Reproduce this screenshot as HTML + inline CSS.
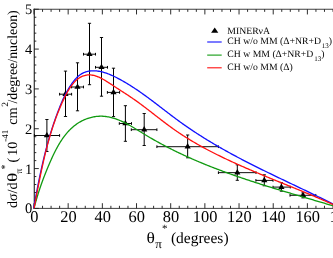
<!DOCTYPE html>
<html><head><meta charset="utf-8"><title>chart</title>
<style>html,body{margin:0;padding:0;background:#fff;overflow:hidden}svg text{font-family:"Liberation Serif",serif;text-rendering:geometricPrecision}</style>
</head><body>
<div style="will-change:transform;width:333px;height:258px;background:#fff">
<svg width="333" height="258" viewBox="0 0 333 258" style="display:block">
<rect width="333" height="258" fill="#fff"/>
<g stroke="#222" fill="none">
<path stroke-width="1.2" stroke="#333" d="M34.3,208.8 V8.85"/>
<path stroke-width="0.9" stroke="#2a2a2a" d="M33.5,9.25 H340 M33.5,208.4 H340"/>
<path stroke-width="0.95" d="M34.00,208.4 v-5.2 M34.00,9.25 v5.2 M42.54,208.4 v-2.6 M42.54,9.25 v2.6 M51.09,208.4 v-2.6 M51.09,9.25 v2.6 M59.63,208.4 v-2.6 M59.63,9.25 v2.6 M68.17,208.4 v-5.2 M68.17,9.25 v5.2 M76.72,208.4 v-2.6 M76.72,9.25 v2.6 M85.26,208.4 v-2.6 M85.26,9.25 v2.6 M93.80,208.4 v-2.6 M93.80,9.25 v2.6 M102.35,208.4 v-5.2 M102.35,9.25 v5.2 M110.89,208.4 v-2.6 M110.89,9.25 v2.6 M119.44,208.4 v-2.6 M119.44,9.25 v2.6 M127.98,208.4 v-2.6 M127.98,9.25 v2.6 M136.52,208.4 v-5.2 M136.52,9.25 v5.2 M145.07,208.4 v-2.6 M145.07,9.25 v2.6 M153.61,208.4 v-2.6 M153.61,9.25 v2.6 M162.15,208.4 v-2.6 M162.15,9.25 v2.6 M170.70,208.4 v-5.2 M170.70,9.25 v5.2 M179.24,208.4 v-2.6 M179.24,9.25 v2.6 M187.78,208.4 v-2.6 M187.78,9.25 v2.6 M196.33,208.4 v-2.6 M196.33,9.25 v2.6 M204.87,208.4 v-5.2 M204.87,9.25 v5.2 M213.41,208.4 v-2.6 M213.41,9.25 v2.6 M221.96,208.4 v-2.6 M221.96,9.25 v2.6 M230.50,208.4 v-2.6 M230.50,9.25 v2.6 M239.04,208.4 v-5.2 M239.04,9.25 v5.2 M247.59,208.4 v-2.6 M247.59,9.25 v2.6 M256.13,208.4 v-2.6 M256.13,9.25 v2.6 M264.67,208.4 v-2.6 M264.67,9.25 v2.6 M273.22,208.4 v-5.2 M273.22,9.25 v5.2 M281.76,208.4 v-2.6 M281.76,9.25 v2.6 M290.31,208.4 v-2.6 M290.31,9.25 v2.6 M298.85,208.4 v-2.6 M298.85,9.25 v2.6 M307.39,208.4 v-5.2 M307.39,9.25 v5.2 M315.94,208.4 v-2.6 M315.94,9.25 v2.6 M324.48,208.4 v-2.6 M324.48,9.25 v2.6 M333.02,208.4 v-2.6 M333.02,9.25 v2.6 M341.57,208.4 v-5.2 M341.57,9.25 v5.2 M34.0,208.40 h4.8 M34.0,200.43 h2.3 M34.0,192.47 h2.3 M34.0,184.50 h2.3 M34.0,176.54 h2.3 M34.0,168.57 h4.8 M34.0,160.60 h2.3 M34.0,152.64 h2.3 M34.0,144.67 h2.3 M34.0,136.71 h2.3 M34.0,128.74 h4.8 M34.0,120.77 h2.3 M34.0,112.81 h2.3 M34.0,104.84 h2.3 M34.0,96.88 h2.3 M34.0,88.91 h4.8 M34.0,80.94 h2.3 M34.0,72.98 h2.3 M34.0,65.01 h2.3 M34.0,57.05 h2.3 M34.0,49.08 h4.8 M34.0,41.11 h2.3 M34.0,33.15 h2.3 M34.0,25.18 h2.3 M34.0,17.22 h2.3 M34.0,9.25 h4.8"/>
</g>
<g fill="none">
<path stroke="#000" stroke-width="0.95" d="M34.40,135.50 H59.60 M45.30,119.50 h3.2 M45.30,151.50 h3.2"/>
<path stroke="#000" stroke-width="1.0" d="M34.40,134.15 v2.7 M59.60,134.15 v2.7 M46.90,119.50 V151.50"/>
<path stroke="#000" stroke-width="0.95" d="M59.60,94.20 H71.60 M63.90,71.10 h3.2 M63.90,116.50 h3.2"/>
<path stroke="#000" stroke-width="1.0" d="M59.60,92.85 v2.7 M71.60,92.85 v2.7 M65.50,71.10 V116.50"/>
<path stroke="#000" stroke-width="0.95" d="M71.60,87.00 H83.50 M75.90,62.80 h3.2 M75.90,110.80 h3.2"/>
<path stroke="#000" stroke-width="1.0" d="M71.60,85.65 v2.7 M83.50,85.65 v2.7 M77.50,62.80 V110.80"/>
<path stroke="#000" stroke-width="0.95" d="M83.50,54.20 H95.50 M87.90,23.30 h3.2 M87.90,84.70 h3.2"/>
<path stroke="#000" stroke-width="1.0" d="M83.50,52.85 v2.7 M95.50,52.85 v2.7 M89.50,23.30 V84.70"/>
<path stroke="#000" stroke-width="0.95" d="M95.50,67.30 H107.50 M99.90,37.50 h3.2 M99.90,96.20 h3.2"/>
<path stroke="#000" stroke-width="1.0" d="M95.50,65.95 v2.7 M107.50,65.95 v2.7 M101.50,37.50 V96.20"/>
<path stroke="#000" stroke-width="0.95" d="M107.40,92.40 H119.60 M111.90,68.20 h3.2 M111.90,116.60 h3.2"/>
<path stroke="#000" stroke-width="1.0" d="M107.40,91.05 v2.7 M119.60,91.05 v2.7 M113.50,68.20 V116.60"/>
<path stroke="#000" stroke-width="0.95" d="M119.30,123.50 H131.50 M123.80,105.70 h3.2 M123.80,141.30 h3.2"/>
<path stroke="#000" stroke-width="1.0" d="M119.30,122.15 v2.7 M131.50,122.15 v2.7 M125.40,105.70 V141.30"/>
<path stroke="#000" stroke-width="0.95" d="M131.30,129.70 H156.90 M142.60,113.50 h3.2 M142.60,145.50 h3.2"/>
<path stroke="#000" stroke-width="1.0" d="M131.30,128.35 v2.7 M156.90,128.35 v2.7 M144.20,113.50 V145.50"/>
<path stroke="#000" stroke-width="0.95" d="M156.90,146.70 H218.40 M186.05,135.00 h3.2 M186.05,157.80 h3.2"/>
<path stroke="#000" stroke-width="1.0" d="M156.90,145.35 v2.7 M218.40,145.35 v2.7 M187.65,135.00 V157.80"/>
<path stroke="#000" stroke-width="0.95" d="M218.40,172.65 H256.00 M235.70,164.80 h3.2 M235.70,180.30 h3.2"/>
<path stroke="#000" stroke-width="1.0" d="M218.40,171.30 v2.7 M256.00,171.30 v2.7 M237.30,164.80 V180.30"/>
<path stroke="#000" stroke-width="0.95" d="M255.90,180.40 H273.00 M262.70,174.80 h3.2 M262.70,185.80 h3.2"/>
<path stroke="#000" stroke-width="1.0" d="M255.90,179.05 v2.7 M273.00,179.05 v2.7 M264.30,174.80 V185.80"/>
<path stroke="#000" stroke-width="0.95" d="M273.00,187.10 H290.30 M279.80,182.70 h3.2 M279.80,191.20 h3.2"/>
<path stroke="#000" stroke-width="1.0" d="M273.00,185.75 v2.7 M290.30,185.75 v2.7 M281.40,182.70 V191.20"/>
<path stroke="#000" stroke-width="0.95" d="M290.00,195.30 H315.80 M301.40,192.90 h3.2 M301.40,197.90 h3.2"/>
<path stroke="#000" stroke-width="1.0" d="M290.00,193.95 v2.7 M315.80,193.95 v2.7 M303.00,192.90 V197.90"/>
</g><g fill="#000">
<path d="M46.90,131.90 l3.1,5.4 h-6.2 z"/>
<path d="M65.50,90.60 l3.1,5.4 h-6.2 z"/>
<path d="M77.50,83.40 l3.1,5.4 h-6.2 z"/>
<path d="M89.50,50.60 l3.1,5.4 h-6.2 z"/>
<path d="M101.50,63.70 l3.1,5.4 h-6.2 z"/>
<path d="M113.50,88.80 l3.1,5.4 h-6.2 z"/>
<path d="M125.40,119.90 l3.1,5.4 h-6.2 z"/>
<path d="M144.20,126.10 l3.1,5.4 h-6.2 z"/>
<path d="M187.65,143.10 l3.1,5.4 h-6.2 z"/>
<path d="M237.30,169.05 l3.1,5.4 h-6.2 z"/>
<path d="M264.30,176.80 l3.1,5.4 h-6.2 z"/>
<path d="M281.40,183.50 l3.1,5.4 h-6.2 z"/>
<path d="M303.00,191.70 l3.1,5.4 h-6.2 z"/>
</g>
<g fill="none" stroke-width="1.3" stroke-linejoin="round">
<path d="M34.00,208.40 L34.25,207.42 L34.50,206.45 L34.76,205.49 L35.01,204.53 L35.27,203.58 L35.53,202.63 L35.80,201.69 L36.06,200.75 L36.33,199.82 L36.60,198.90 L36.87,197.97 L37.14,197.05 L37.41,196.14 L37.69,195.23 L37.97,194.32 L38.25,193.42 L38.54,192.52 L38.82,191.63 L39.11,190.73 L39.40,189.84 L39.70,188.96 L39.99,188.07 L40.29,187.19 L40.59,186.31 L40.90,185.43 L41.20,184.56 L41.51,183.68 L41.82,182.81 L42.14,181.94 L42.46,181.07 L42.77,180.20 L43.10,179.33 L43.42,178.47 L43.75,177.60 L44.08,176.74 L44.42,175.87 L44.75,175.00 L45.09,174.14 L45.43,173.27 L45.78,172.41 L46.13,171.54 L46.48,170.67 L46.83,169.80 L47.19,168.93 L47.55,168.06 L47.92,167.19 L48.29,166.31 L48.66,165.44 L49.03,164.56 L49.41,163.68 L49.79,162.80 L50.17,161.91 L50.56,161.03 L50.95,160.14 L51.35,159.26 L51.75,158.37 L52.16,157.48 L52.57,156.59 L52.98,155.71 L53.40,154.82 L53.83,153.94 L54.26,153.06 L54.69,152.18 L55.13,151.31 L55.58,150.43 L56.03,149.56 L56.49,148.70 L56.96,147.83 L57.43,146.97 L57.91,146.12 L58.40,145.27 L58.89,144.43 L59.39,143.59 L59.90,142.76 L60.41,141.93 L60.93,141.11 L61.47,140.30 L62.00,139.50 L62.55,138.70 L63.11,137.91 L63.67,137.13 L64.24,136.36 L64.82,135.60 L65.41,134.84 L66.01,134.10 L66.62,133.37 L67.24,132.65 L67.87,131.93 L68.51,131.23 L69.15,130.54 L69.81,129.87 L70.48,129.20 L71.16,128.55 L71.85,127.91 L72.55,127.28 L73.27,126.67 L73.99,126.07 L74.72,125.49 L75.47,124.92 L76.23,124.36 L77.00,123.82 L77.78,123.30 L78.58,122.79 L79.38,122.30 L80.20,121.83 L81.03,121.37 L81.87,120.93 L82.71,120.50 L83.57,120.10 L84.44,119.71 L85.31,119.34 L86.19,118.99 L87.08,118.66 L87.98,118.35 L88.88,118.06 L89.79,117.79 L90.71,117.53 L91.63,117.30 L92.55,117.09 L93.48,116.90 L94.41,116.74 L95.35,116.59 L96.29,116.47 L97.23,116.37 L98.17,116.29 L99.11,116.23 L100.05,116.20 L101.00,116.19 L101.94,116.21 L102.89,116.25 L103.83,116.31 L104.77,116.40 L105.71,116.51 L106.65,116.64 L107.59,116.79 L108.53,116.96 L109.46,117.15 L110.39,117.36 L111.32,117.59 L112.25,117.84 L113.18,118.10 L114.10,118.38 L115.02,118.68 L115.93,118.99 L116.85,119.32 L117.76,119.66 L118.66,120.01 L119.56,120.38 L120.46,120.75 L121.35,121.14 L122.24,121.55 L123.12,121.96 L124.00,122.38 L124.88,122.81 L125.74,123.24 L126.61,123.69 L127.46,124.14 L128.32,124.60 L129.17,125.07 L130.01,125.54 L130.85,126.02 L131.69,126.50 L132.52,126.99 L133.35,127.48 L134.18,127.98 L135.01,128.47 L135.83,128.97 L136.65,129.48 L137.48,129.98 L138.29,130.49 L139.11,130.99 L139.93,131.50 L140.75,132.01 L141.57,132.52 L142.38,133.02 L143.20,133.52 L144.02,134.03 L144.84,134.53 L145.66,135.02 L146.48,135.52 L147.31,136.01 L148.13,136.50 L148.96,136.99 L149.78,137.47 L150.61,137.95 L151.44,138.43 L152.27,138.91 L153.10,139.39 L153.93,139.86 L154.76,140.33 L155.60,140.80 L156.43,141.27 L157.27,141.73 L158.10,142.19 L158.94,142.65 L159.78,143.11 L160.62,143.57 L161.46,144.02 L162.30,144.47 L163.14,144.92 L163.99,145.36 L164.83,145.81 L165.68,146.25 L166.52,146.69 L167.37,147.13 L168.22,147.57 L169.07,148.00 L169.92,148.43 L170.77,148.86 L171.62,149.29 L172.47,149.72 L173.33,150.14 L174.18,150.56 L175.03,150.98 L175.89,151.40 L176.75,151.81 L177.60,152.23 L178.46,152.64 L179.32,153.05 L180.18,153.46 L181.04,153.86 L181.91,154.27 L182.77,154.67 L183.63,155.07 L184.50,155.47 L185.36,155.87 L186.23,156.26 L187.09,156.66 L187.96,157.05 L188.83,157.44 L189.70,157.83 L190.57,158.21 L191.44,158.60 L192.31,158.98 L193.18,159.36 L194.05,159.74 L194.93,160.12 L195.80,160.50 L196.68,160.87 L197.55,161.24 L198.43,161.61 L199.31,161.98 L200.18,162.35 L201.06,162.72 L201.94,163.08 L202.82,163.45 L203.70,163.81 L204.58,164.17 L205.46,164.53 L206.34,164.88 L207.23,165.24 L208.11,165.59 L209.00,165.94 L209.88,166.30 L210.77,166.65 L211.65,166.99 L212.54,167.34 L213.43,167.69 L214.31,168.03 L215.20,168.37 L216.09,168.71 L216.98,169.05 L217.87,169.39 L218.76,169.73 L219.65,170.06 L220.54,170.40 L221.44,170.73 L222.33,171.06 L223.22,171.40 L224.12,171.72 L225.01,172.05 L225.91,172.38 L226.80,172.71 L227.70,173.03 L228.59,173.35 L229.49,173.68 L230.39,174.00 L231.29,174.32 L232.18,174.63 L233.08,174.95 L233.98,175.27 L234.88,175.58 L235.78,175.90 L236.68,176.21 L237.58,176.52 L238.49,176.83 L239.39,177.14 L240.29,177.45 L241.19,177.76 L242.10,178.07 L243.00,178.37 L243.90,178.68 L244.81,178.98 L245.71,179.29 L246.62,179.59 L247.52,179.89 L248.43,180.19 L249.34,180.49 L250.24,180.79 L251.15,181.09 L252.06,181.38 L252.96,181.68 L253.87,181.97 L254.78,182.27 L255.69,182.56 L256.60,182.85 L257.51,183.15 L258.42,183.44 L259.32,183.73 L260.23,184.02 L261.15,184.31 L262.06,184.59 L262.97,184.88 L263.88,185.17 L264.79,185.45 L265.70,185.74 L266.61,186.03 L267.52,186.31 L268.44,186.59 L269.35,186.88 L270.26,187.16 L271.17,187.44 L272.09,187.72 L273.00,188.00 L273.91,188.28 L274.83,188.56 L275.74,188.84 L276.65,189.12 L277.57,189.40 L278.48,189.67 L279.40,189.95 L280.31,190.23 L281.23,190.50 L282.14,190.78 L283.06,191.06 L283.97,191.33 L284.89,191.60 L285.80,191.88 L286.72,192.15 L287.63,192.43 L288.55,192.70 L289.46,192.97 L290.38,193.24 L291.30,193.52 L292.21,193.79 L293.13,194.06 L294.04,194.33 L294.96,194.60 L295.88,194.87 L296.79,195.14 L297.71,195.41 L298.62,195.68 L299.54,195.95 L300.46,196.22 L301.37,196.49 L302.29,196.76 L303.21,197.03 L304.12,197.30 L305.04,197.57 L305.95,197.84 L306.87,198.11 L307.79,198.38 L308.70,198.65 L309.62,198.92 L310.53,199.19 L311.45,199.45 L312.37,199.72 L313.28,199.99 L314.20,200.26 L315.11,200.53 L316.03,200.80 L316.94,201.07 L317.86,201.34 L318.77,201.60 L319.69,201.87 L320.60,202.14 L321.52,202.41 L322.43,202.68 L323.35,202.95 L324.26,203.22 L325.18,203.49 L326.09,203.76 L327.01,204.03 L327.92,204.30 L328.83,204.57 L329.75,204.85 L330.66,205.12 L331.57,205.39 L332.49,205.66 L333.40,205.93 L334.31,206.21 L335.22,206.48 L336.13,206.75 L337.05,207.03 L337.96,207.30 L338.87,207.57 L339.78,207.85 L340.69,208.12 L341.60,208.40" stroke="#109a10"/>
<path d="M33.65,208.40 L33.85,207.30 L34.04,206.20 L34.24,205.11 L34.44,204.01 L34.63,202.91 L34.83,201.82 L35.03,200.72 L35.23,199.62 L35.44,198.53 L35.64,197.43 L35.84,196.34 L36.04,195.25 L36.25,194.15 L36.46,193.06 L36.66,191.97 L36.87,190.87 L37.08,189.78 L37.29,188.69 L37.50,187.60 L37.71,186.51 L37.93,185.42 L38.14,184.33 L38.36,183.24 L38.58,182.16 L38.80,181.07 L39.02,179.98 L39.24,178.89 L39.47,177.81 L39.69,176.72 L39.92,175.64 L40.15,174.55 L40.38,173.47 L40.61,172.39 L40.84,171.30 L41.08,170.22 L41.32,169.14 L41.56,168.06 L41.80,166.98 L42.04,165.90 L42.29,164.82 L42.53,163.74 L42.78,162.66 L43.03,161.58 L43.29,160.51 L43.54,159.43 L43.80,158.36 L44.06,157.28 L44.32,156.21 L44.59,155.13 L44.86,154.06 L45.13,152.99 L45.40,151.92 L45.67,150.85 L45.95,149.78 L46.23,148.71 L46.51,147.64 L46.80,146.57 L47.08,145.50 L47.37,144.44 L47.67,143.37 L47.96,142.31 L48.26,141.24 L48.56,140.18 L48.87,139.12 L49.17,138.05 L49.48,136.99 L49.79,135.93 L50.11,134.87 L50.43,133.81 L50.75,132.76 L51.08,131.70 L51.41,130.64 L51.74,129.59 L52.07,128.53 L52.41,127.48 L52.75,126.42 L53.10,125.37 L53.45,124.32 L53.80,123.27 L54.15,122.22 L54.51,121.17 L54.87,120.12 L55.24,119.08 L55.61,118.03 L55.98,116.98 L56.36,115.94 L56.74,114.90 L57.12,113.85 L57.51,112.81 L57.90,111.77 L58.30,110.73 L58.70,109.69 L59.10,108.65 L59.51,107.62 L59.92,106.58 L60.34,105.54 L60.76,104.51 L61.18,103.48 L61.61,102.44 L62.06,101.41 L62.52,100.39 L62.99,99.36 L63.46,98.34 L63.94,97.32 L64.43,96.30 L64.93,95.29 L65.44,94.28 L65.96,93.28 L66.50,92.28 L67.04,91.29 L67.60,90.31 L68.17,89.33 L68.75,88.36 L69.35,87.40 L69.97,86.44 L70.57,85.49 L71.19,84.55 L71.83,83.63 L72.49,82.71 L73.16,81.80 L73.85,80.91 L74.56,80.04 L75.29,79.20 L76.04,78.38 L76.81,77.58 L77.60,76.82 L78.42,76.10 L79.25,75.41 L80.11,74.77 L80.99,74.17 L81.90,73.61 L82.83,73.11 L83.78,72.66 L84.76,72.26 L85.76,71.92 L86.78,71.62 L87.81,71.38 L88.87,71.17 L89.93,71.02 L91.01,70.91 L92.10,70.84 L93.20,70.81 L94.30,70.83 L95.41,70.88 L96.53,70.97 L97.64,71.09 L98.76,71.25 L99.87,71.45 L100.97,71.67 L102.08,71.92 L103.17,72.20 L104.26,72.51 L105.34,72.85 L106.41,73.21 L107.48,73.59 L108.55,73.99 L109.60,74.41 L110.65,74.85 L111.70,75.31 L112.74,75.78 L113.77,76.27 L114.80,76.77 L115.82,77.27 L116.83,77.79 L117.84,78.32 L118.85,78.85 L119.85,79.39 L120.84,79.93 L121.83,80.48 L122.81,81.03 L123.79,81.59 L124.77,82.16 L125.74,82.73 L126.70,83.30 L127.66,83.88 L128.62,84.46 L129.57,85.05 L130.52,85.65 L131.46,86.24 L132.40,86.84 L133.34,87.45 L134.27,88.06 L135.20,88.67 L136.12,89.29 L137.04,89.91 L137.96,90.53 L138.88,91.16 L139.79,91.79 L140.70,92.43 L141.61,93.06 L142.51,93.70 L143.41,94.35 L144.31,94.99 L145.21,95.64 L146.10,96.29 L146.99,96.94 L147.88,97.59 L148.77,98.25 L149.66,98.91 L150.54,99.57 L151.43,100.23 L152.31,100.89 L153.19,101.56 L154.07,102.22 L154.95,102.89 L155.83,103.56 L156.70,104.22 L157.58,104.89 L158.45,105.56 L159.33,106.23 L160.20,106.91 L161.08,107.58 L161.95,108.25 L162.82,108.92 L163.70,109.59 L164.57,110.26 L165.44,110.93 L166.32,111.60 L167.19,112.27 L168.07,112.94 L168.94,113.61 L169.82,114.28 L170.70,114.95 L171.58,115.61 L172.46,116.27 L173.34,116.94 L174.22,117.60 L175.10,118.26 L175.99,118.92 L176.88,119.57 L177.77,120.22 L178.66,120.88 L179.55,121.53 L180.45,122.17 L181.34,122.82 L182.24,123.46 L183.14,124.10 L184.05,124.74 L184.95,125.37 L185.86,126.00 L186.77,126.63 L187.68,127.26 L188.59,127.89 L189.51,128.51 L190.43,129.13 L191.35,129.75 L192.27,130.37 L193.19,130.98 L194.12,131.59 L195.04,132.20 L195.97,132.81 L196.90,133.42 L197.83,134.02 L198.76,134.62 L199.70,135.22 L200.64,135.81 L201.57,136.41 L202.51,137.00 L203.45,137.59 L204.40,138.18 L205.34,138.76 L206.29,139.35 L207.23,139.93 L208.18,140.51 L209.13,141.09 L210.08,141.66 L211.03,142.23 L211.99,142.80 L212.94,143.37 L213.90,143.94 L214.86,144.51 L215.82,145.07 L216.78,145.63 L217.74,146.19 L218.70,146.74 L219.66,147.30 L220.63,147.85 L221.59,148.40 L222.56,148.95 L223.53,149.50 L224.49,150.04 L225.46,150.59 L226.43,151.13 L227.40,151.67 L228.38,152.21 L229.35,152.74 L230.32,153.27 L231.30,153.81 L232.27,154.34 L233.25,154.87 L234.22,155.39 L235.20,155.92 L236.18,156.44 L237.16,156.96 L238.14,157.48 L239.12,158.00 L240.10,158.52 L241.08,159.03 L242.07,159.55 L243.05,160.06 L244.03,160.57 L245.02,161.08 L246.00,161.59 L246.99,162.10 L247.98,162.60 L248.96,163.11 L249.95,163.61 L250.94,164.11 L251.93,164.62 L252.92,165.12 L253.91,165.61 L254.90,166.11 L255.89,166.61 L256.88,167.10 L257.87,167.60 L258.87,168.09 L259.86,168.58 L260.85,169.07 L261.85,169.57 L262.84,170.06 L263.83,170.54 L264.83,171.03 L265.82,171.52 L266.82,172.01 L267.82,172.49 L268.81,172.98 L269.81,173.46 L270.81,173.94 L271.80,174.43 L272.80,174.91 L273.80,175.39 L274.80,175.87 L275.80,176.35 L276.79,176.83 L277.79,177.31 L278.79,177.79 L279.79,178.27 L280.79,178.75 L281.79,179.23 L282.79,179.71 L283.79,180.19 L284.79,180.66 L285.79,181.14 L286.79,181.62 L287.79,182.10 L288.79,182.57 L289.79,183.05 L290.79,183.53 L291.79,184.00 L292.79,184.48 L293.80,184.96 L294.80,185.43 L295.80,185.91 L296.80,186.39 L297.80,186.86 L298.80,187.34 L299.80,187.82 L300.80,188.29 L301.80,188.77 L302.80,189.25 L303.80,189.73 L304.80,190.21 L305.80,190.69 L306.80,191.16 L307.80,191.64 L308.80,192.12 L309.80,192.61 L310.80,193.09 L311.80,193.57 L312.80,194.05 L313.79,194.53 L314.79,195.02 L315.79,195.50 L316.79,195.98 L317.79,196.47 L318.78,196.96 L319.78,197.44 L320.78,197.93 L321.77,198.42 L322.77,198.91 L323.76,199.40 L324.76,199.89 L325.75,200.38 L326.75,200.87 L327.74,201.37 L328.73,201.86 L329.73,202.36 L330.72,202.86 L331.71,203.35 L332.70,203.85 L333.69,204.35 L334.68,204.85 L335.67,205.36 L336.66,205.86 L337.65,206.37 L338.64,206.87 L339.63,207.38 L340.61,207.89 L341.60,208.40" stroke="#1010ff"/>
<path d="M34.00,208.40 L34.21,207.32 L34.42,206.25 L34.62,205.17 L34.83,204.10 L35.04,203.02 L35.24,201.94 L35.45,200.86 L35.66,199.79 L35.86,198.71 L36.07,197.63 L36.28,196.55 L36.48,195.47 L36.69,194.39 L36.90,193.32 L37.10,192.24 L37.31,191.16 L37.52,190.08 L37.73,189.00 L37.94,187.92 L38.15,186.84 L38.36,185.76 L38.57,184.69 L38.78,183.61 L38.99,182.53 L39.21,181.45 L39.42,180.37 L39.64,179.29 L39.86,178.22 L40.07,177.14 L40.29,176.06 L40.51,174.98 L40.74,173.91 L40.96,172.83 L41.18,171.76 L41.41,170.68 L41.64,169.61 L41.87,168.53 L42.10,167.46 L42.33,166.38 L42.57,165.31 L42.80,164.24 L43.04,163.16 L43.28,162.09 L43.52,161.02 L43.77,159.95 L44.01,158.88 L44.26,157.81 L44.51,156.74 L44.77,155.67 L45.02,154.61 L45.28,153.54 L45.54,152.47 L45.81,151.41 L46.07,150.34 L46.34,149.28 L46.61,148.22 L46.89,147.16 L47.16,146.09 L47.44,145.03 L47.73,143.97 L48.01,142.92 L48.30,141.86 L48.59,140.80 L48.89,139.75 L49.19,138.69 L49.49,137.64 L49.79,136.59 L50.10,135.54 L50.42,134.49 L50.73,133.44 L51.05,132.39 L51.37,131.34 L51.70,130.30 L52.03,129.25 L52.37,128.21 L52.70,127.17 L53.05,126.13 L53.39,125.09 L53.74,124.05 L54.10,123.02 L54.46,121.98 L54.82,120.95 L55.19,119.92 L55.56,118.89 L55.94,117.86 L56.32,116.83 L56.70,115.80 L57.09,114.78 L57.49,113.76 L57.89,112.74 L58.29,111.72 L58.70,110.70 L59.12,109.68 L59.53,108.67 L59.96,107.65 L60.39,106.64 L60.82,105.63 L61.26,104.62 L61.71,103.62 L62.16,102.61 L62.61,101.61 L63.07,100.61 L63.54,99.61 L64.01,98.62 L64.49,97.62 L64.98,96.63 L65.47,95.64 L65.98,94.66 L66.50,93.69 L67.02,92.72 L67.57,91.76 L68.12,90.80 L68.69,89.86 L69.27,88.92 L69.87,87.99 L70.49,87.08 L71.13,86.17 L71.79,85.28 L72.46,84.40 L73.16,83.54 L73.88,82.68 L74.63,81.86 L75.40,81.05 L76.20,80.28 L77.02,79.55 L77.88,78.86 L78.77,78.22 L79.69,77.63 L80.63,77.10 L81.60,76.61 L82.58,76.19 L83.58,75.82 L84.60,75.51 L85.62,75.26 L86.64,75.07 L87.67,74.95 L88.69,74.89 L89.72,74.89 L90.75,74.95 L91.77,75.07 L92.80,75.24 L93.82,75.46 L94.85,75.72 L95.87,76.03 L96.89,76.38 L97.91,76.77 L98.93,77.20 L99.94,77.66 L100.95,78.15 L101.96,78.67 L102.97,79.21 L103.97,79.78 L104.98,80.36 L105.97,80.96 L106.97,81.58 L107.96,82.21 L108.94,82.84 L109.92,83.48 L110.90,84.13 L111.87,84.77 L112.84,85.41 L113.80,86.05 L114.75,86.68 L115.70,87.30 L116.65,87.92 L117.59,88.53 L118.53,89.14 L119.46,89.74 L120.39,90.34 L121.31,90.93 L122.23,91.53 L123.14,92.12 L124.05,92.71 L124.96,93.30 L125.87,93.89 L126.77,94.48 L127.67,95.07 L128.57,95.66 L129.46,96.25 L130.35,96.85 L131.24,97.45 L132.13,98.05 L133.01,98.66 L133.90,99.27 L134.78,99.89 L135.66,100.51 L136.54,101.14 L137.42,101.77 L138.29,102.40 L139.17,103.04 L140.04,103.68 L140.92,104.33 L141.79,104.98 L142.66,105.63 L143.53,106.29 L144.40,106.94 L145.27,107.60 L146.14,108.27 L147.01,108.93 L147.88,109.60 L148.75,110.27 L149.62,110.94 L150.49,111.61 L151.35,112.28 L152.22,112.96 L153.09,113.63 L153.96,114.31 L154.83,114.98 L155.70,115.66 L156.57,116.33 L157.44,117.01 L158.31,117.68 L159.18,118.36 L160.06,119.03 L160.93,119.70 L161.81,120.38 L162.68,121.05 L163.56,121.72 L164.44,122.38 L165.32,123.05 L166.20,123.71 L167.09,124.37 L167.97,125.03 L168.86,125.69 L169.75,126.34 L170.64,126.99 L171.53,127.63 L172.42,128.28 L173.32,128.92 L174.22,129.55 L175.12,130.18 L176.02,130.81 L176.93,131.43 L177.84,132.05 L178.75,132.67 L179.66,133.28 L180.58,133.89 L181.49,134.49 L182.41,135.09 L183.33,135.69 L184.26,136.28 L185.18,136.87 L186.11,137.45 L187.04,138.03 L187.97,138.61 L188.91,139.18 L189.84,139.75 L190.78,140.32 L191.72,140.88 L192.66,141.44 L193.60,142.00 L194.55,142.55 L195.49,143.10 L196.44,143.65 L197.39,144.20 L198.35,144.74 L199.30,145.27 L200.25,145.81 L201.21,146.34 L202.17,146.87 L203.13,147.39 L204.09,147.92 L205.05,148.44 L206.02,148.96 L206.99,149.47 L207.95,149.98 L208.92,150.49 L209.89,151.00 L210.86,151.50 L211.84,152.00 L212.81,152.50 L213.79,153.00 L214.76,153.49 L215.74,153.99 L216.72,154.47 L217.70,154.96 L218.68,155.45 L219.67,155.93 L220.65,156.41 L221.64,156.89 L222.62,157.37 L223.61,157.84 L224.60,158.31 L225.59,158.78 L226.58,159.25 L227.57,159.72 L228.56,160.18 L229.55,160.65 L230.55,161.11 L231.54,161.57 L232.54,162.02 L233.53,162.48 L234.53,162.94 L235.53,163.39 L236.53,163.84 L237.52,164.29 L238.52,164.74 L239.53,165.19 L240.53,165.63 L241.53,166.08 L242.53,166.52 L243.53,166.96 L244.54,167.40 L245.54,167.84 L246.55,168.28 L247.56,168.71 L248.56,169.15 L249.57,169.58 L250.58,170.01 L251.58,170.45 L252.59,170.88 L253.60,171.31 L254.61,171.73 L255.62,172.16 L256.63,172.59 L257.64,173.02 L258.66,173.44 L259.67,173.86 L260.68,174.29 L261.69,174.71 L262.71,175.13 L263.72,175.55 L264.73,175.97 L265.75,176.39 L266.76,176.81 L267.78,177.23 L268.79,177.65 L269.81,178.07 L270.82,178.48 L271.84,178.90 L272.86,179.32 L273.87,179.73 L274.89,180.15 L275.91,180.56 L276.92,180.98 L277.94,181.39 L278.96,181.81 L279.97,182.22 L280.99,182.64 L282.01,183.05 L283.02,183.46 L284.04,183.88 L285.06,184.29 L286.08,184.71 L287.09,185.12 L288.11,185.53 L289.13,185.95 L290.15,186.36 L291.16,186.78 L292.18,187.19 L293.20,187.60 L294.21,188.02 L295.23,188.43 L296.25,188.85 L297.26,189.27 L298.28,189.68 L299.30,190.10 L300.31,190.52 L301.33,190.93 L302.34,191.35 L303.36,191.77 L304.37,192.19 L305.39,192.61 L306.40,193.03 L307.42,193.45 L308.43,193.87 L309.45,194.30 L310.46,194.72 L311.47,195.14 L312.48,195.57 L313.50,195.99 L314.51,196.42 L315.52,196.85 L316.53,197.28 L317.54,197.71 L318.55,198.14 L319.56,198.57 L320.57,199.00 L321.57,199.44 L322.58,199.87 L323.59,200.31 L324.59,200.75 L325.60,201.18 L326.61,201.62 L327.61,202.07 L328.61,202.51 L329.62,202.95 L330.62,203.40 L331.62,203.84 L332.62,204.29 L333.62,204.74 L334.62,205.19 L335.62,205.65 L336.62,206.10 L337.62,206.56 L338.61,207.02 L339.61,207.48 L340.61,207.94 L341.60,208.40" stroke="#ff1010"/>
</g>
<path d="M207.2,42.0 h14.5" stroke="#1010ff" stroke-width="1.1"/>
<path d="M207.2,55.1 h14.5" stroke="#109a10" stroke-width="1.1"/>
<path d="M207.2,67.8 h14.5" stroke="#ff1010" stroke-width="1.1"/>
<filter id="gs" x="-5%" y="-5%" width="110%" height="110%" color-interpolation-filters="sRGB"><feColorMatrix type="saturate" values="0"/></filter>
<g fill="#000" filter="url(#gs)">
<g font-size="16.4" text-anchor="middle">
<text x="34.30" y="222.2">0</text>
<text x="68.47" y="222.2">20</text>
<text x="102.65" y="222.2">40</text>
<text x="136.82" y="222.2">60</text>
<text x="171.00" y="222.2">80</text>
<text x="205.17" y="222.2">100</text>
<text x="239.34" y="222.2">120</text>
<text x="273.52" y="222.2">140</text>
<text x="307.69" y="222.2">160</text>
<text x="341.87" y="222.2">180</text>
</g><g font-size="14.5" text-anchor="end">
<text x="32.3" y="213.40">0</text>
<text x="32.3" y="173.57">1</text>
<text x="32.3" y="133.74">2</text>
<text x="32.3" y="93.91">3</text>
<text x="32.3" y="54.08">4</text>
<text x="32.3" y="14.25">5</text>
</g>
<text transform="translate(146.5,242.6) scale(1.13,1)" font-size="15.5">θ</text>
<text transform="translate(155.2,247.8) scale(1.05,1)" font-size="12.5">π</text>
<text x="162.0" y="232.4" font-size="11">*</text>
<text x="170.9" y="242.6" font-size="15.5">(degrees)</text>
<text transform="translate(16.9,208.0) rotate(-90)" font-size="14">dσ/d</text>
<text transform="translate(16.9,182.1) rotate(-90) scale(1.4,1)" font-size="14">θ</text>
<text transform="translate(22,173.4) rotate(-90)" font-size="9.5">π</text>
<text transform="translate(8.25,169.5) rotate(-90)" font-size="10">*</text>
<text transform="translate(16.9,162.5) rotate(-90)" font-size="14">(</text>
<text transform="translate(16.9,155.8) rotate(-90)" font-size="14">10</text>
<text transform="translate(7.6,141.8) rotate(-90)" font-size="9">-41</text>
<text transform="translate(16.9,124.8) rotate(-90)" font-size="14.4">cm</text>
<text transform="translate(8.2,106.8) rotate(-90)" font-size="9.5">2</text>
<text transform="translate(16.9,103.6) rotate(-90)" font-size="13.9">/degree/nucleon)</text>
<g font-size="9.72">
<path d="M214.7,27.6 l3.6,5.2 h-7.2 z"/>
<text x="227.3" y="33.5">MINERνA</text>
<text x="227.3" y="43.5">CH w/o MM (Δ+NR+D<tspan font-size="7.0" dy="4.0" dx="0.8">13</tspan><tspan dy="-4.0">)</tspan></text>
<text x="227.3" y="56.7">CH w MM (Δ+NR+D<tspan font-size="7.0" dy="4.0" dx="0.8">13</tspan><tspan dy="-4.0">)</tspan></text>
<text x="227.3" y="69.9">CH w/o MM (Δ)</text>
</g>
</g>
</svg>
</div>
</body></html>
